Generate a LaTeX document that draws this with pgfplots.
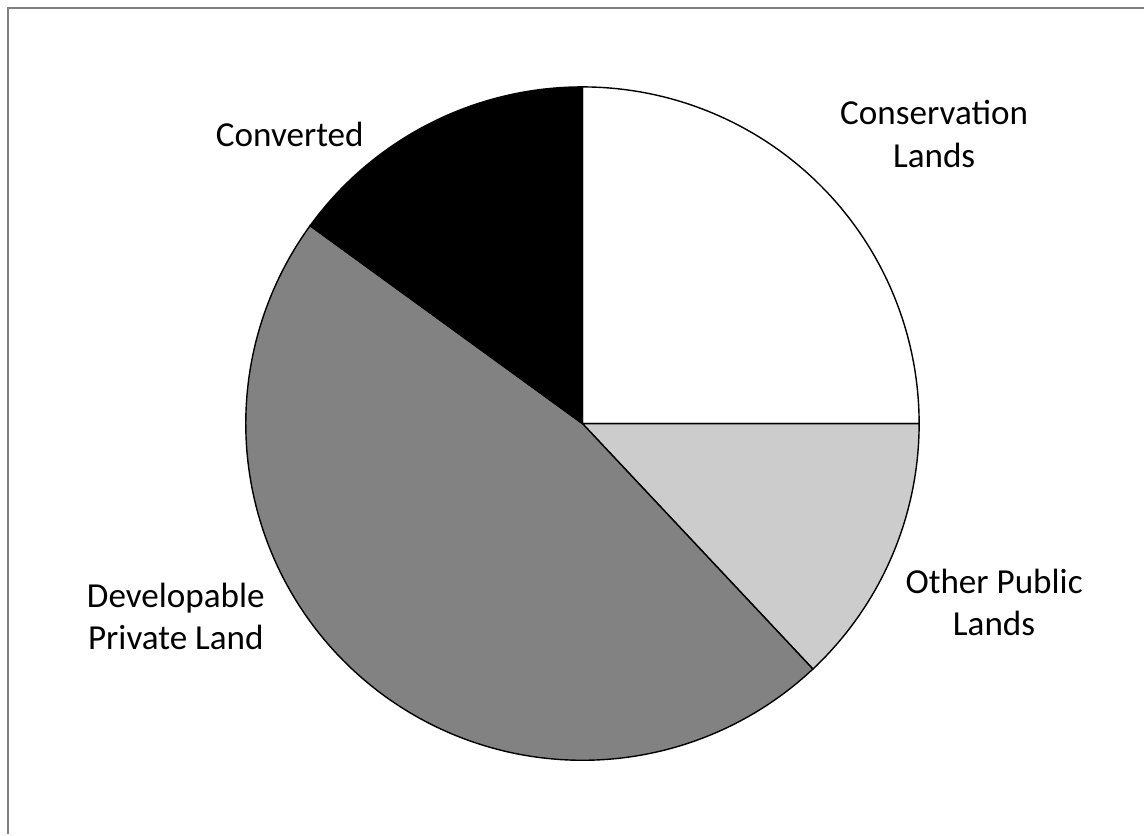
\documentclass[border=0pt]{standalone}
\usepackage{fontspec}
\setmainfont{Carlito}
\usepackage{pgfplots}
\pgfplotsset{compat=1.18}
\begin{document}
\begin{tikzpicture}
\begin{axis}[width=11.45cm,height=8.35cm,scale only axis,
  xmin=0,xmax=1145,ymin=0,ymax=835,hide axis,clip=false]
% shares (percent): Conservation Lands 25, Other Public Lands 13,
% Developable Private Land 47, Converted 15 -- clockwise from 12 o'clock
\addplot[draw=black,line width=0.4pt,fill=white,domain={90-3.6*25}:{90},samples=120]
  ({583+337*cos(x)},{411+337*sin(x)}) -- (583,411) -- cycle;
\addplot[draw=black,line width=0.4pt,fill=black!20,domain={90-3.6*(25+13)}:{90-3.6*25},samples=80]
  ({583+337*cos(x)},{411+337*sin(x)}) -- (583,411) -- cycle;
\addplot[draw=black,line width=0.4pt,fill=black!49,domain={90-3.6*(25+13+47)}:{90-3.6*(25+13)},samples=200]
  ({583+337*cos(x)},{411+337*sin(x)}) -- (583,411) -- cycle;
\addplot[draw=black,line width=0.4pt,fill=black,domain={90-3.6*(25+13+47+15)}:{90-3.6*(25+13+47)},samples=80]
  ({583+337*cos(x)},{411+337*sin(x)}) -- (583,411) -- cycle;
\node[align=center,font=\fontsize{10}{12.2}\selectfont] at (935,701) {Conservation\\Lands};
\node[align=center,font=\fontsize{10}{12.2}\selectfont] at (290,700) {Converted};
\node[align=center,font=\fontsize{10}{12.2}\selectfont] at (176,218) {Developable\\Private Land};
\node[align=center,font=\fontsize{10}{12.2}\selectfont] at (995,232) {Other Public\\Lands};
\draw[black!50,line width=0.6pt] (8,0) -- (8,827) -- (1145,827);
\path (0,0) (1145,835);
\end{axis}
\end{tikzpicture}
\end{document}
